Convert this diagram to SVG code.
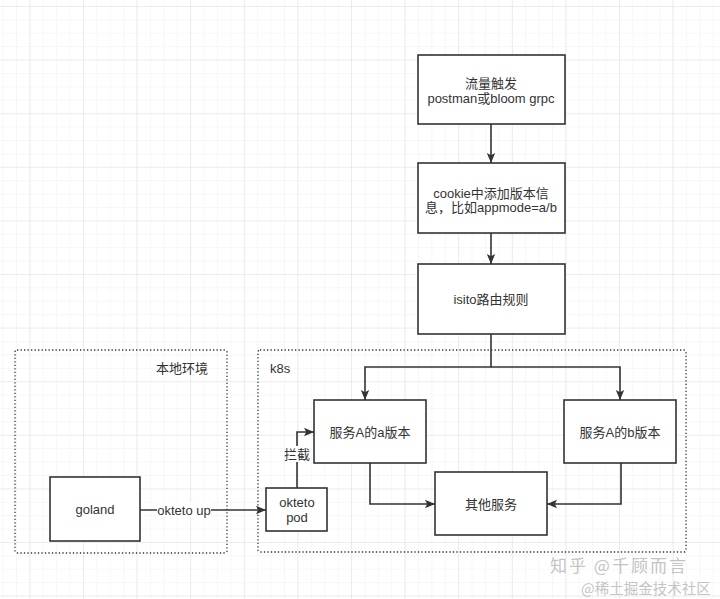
<svg xmlns="http://www.w3.org/2000/svg" width="720" height="599" viewBox="0 0 720 599">
<style>
.box{fill:#fff;stroke:#333;stroke-width:1.6}
.cont{fill:none;stroke:#333;stroke-width:1.3;stroke-dasharray:1.3 2.2}
.t{font-family:"Liberation Sans","Noto Sans CJK SC",sans-serif;font-size:13px;fill:#333;text-anchor:middle;dominant-baseline:central}
.c{fill:none;stroke:#333;stroke-width:1.6}
.wm{font-family:"Noto Sans CJK SC",sans-serif;fill:#c4c4c4;dominant-baseline:central}
</style>
<defs>
<marker id="ah" viewBox="0 0 10 10" refX="10" refY="5" markerWidth="10" markerHeight="10" markerUnits="userSpaceOnUse" orient="auto">
<path d="M0,0.8 L10,5 L0,9.2 L2.2,5 Z" fill="#333"/>
</marker>
<pattern id="gmin" x="2.6" y="6" width="13.4" height="13.4" patternUnits="userSpaceOnUse">
<path d="M0,0 H13.4 M0,0 V13.4" fill="none" stroke="#efefef" stroke-width="1"/>
</pattern>
<pattern id="gmaj" x="29.4" y="6" width="53.6" height="53.6" patternUnits="userSpaceOnUse">
<path d="M0,0 H53.6 M0,0 V53.6" fill="none" stroke="#e3e3e3" stroke-width="1.2"/>
</pattern>
</defs>
<rect width="720" height="599" fill="#fff"/>
<rect width="720" height="599" fill="url(#gmin)"/>
<rect width="720" height="599" fill="url(#gmaj)"/>

<g id="local-env">
<rect class="cont" x="15" y="350" width="212" height="203" rx="2"/>
<text class="t" x="208" y="368" style="text-anchor:end">本地环境</text>
</g>
<g id="k8s">
<rect class="cont" x="258" y="350" width="428" height="202" rx="2"/>
<text class="t" x="270" y="368" style="text-anchor:start">k8s</text>
</g>

<g id="connectors">
<path class="c" d="M491,124 V163" marker-end="url(#ah)"/>
<path class="c" d="M491,233 V264" marker-end="url(#ah)"/>
<path class="c" d="M491,334 V367 H365 V400" marker-end="url(#ah)"/>
<path class="c" d="M491,367 H620 V400" marker-end="url(#ah)"/>
<path class="c" d="M370,463 V504 H435" marker-end="url(#ah)"/>
<path class="c" d="M621,463 V504 H547" marker-end="url(#ah)"/>
<path class="c" d="M140,510 H266" marker-end="url(#ah)"/>
<path class="c" d="M297,488 V432 H314" marker-end="url(#ah)"/>
<rect x="157" y="502" width="54" height="16" fill="#fff"/>
<text class="t" x="184" y="510">okteto up</text>
<rect x="285" y="446" width="25" height="16" fill="#fff"/>
<text class="t" x="297" y="454">拦截</text>
</g>

<g id="traffic">
<rect class="box" x="418" y="55" width="147" height="69"/>
<text class="t" x="491" y="83">流量触发</text>
<text class="t" x="491" y="98">postman或bloom grpc</text>
</g>
<g id="cookie">
<rect class="box" x="418" y="163" width="147" height="70"/>
<text class="t" x="491" y="193">cookie中添加版本信</text>
<text class="t" x="491" y="207">息，比如appmode=a/b</text>
</g>
<g id="istio">
<rect class="box" x="418" y="264" width="147" height="70"/>
<text class="t" x="491" y="299">isito路由规则</text>
</g>
<g id="serviceA-a">
<rect class="box" x="314" y="400" width="112" height="63"/>
<text class="t" x="370" y="432">服务A的a版本</text>
</g>
<g id="serviceA-b">
<rect class="box" x="564" y="400" width="112" height="63"/>
<text class="t" x="620" y="432">服务A的b版本</text>
</g>
<g id="other">
<rect class="box" x="435" y="472" width="112" height="63"/>
<text class="t" x="491" y="504">其他服务</text>
</g>
<g id="goland">
<rect class="box" x="50" y="477" width="90" height="64"/>
<text class="t" x="95" y="509">goland</text>
</g>
<g id="okteto-pod">
<rect class="box" x="266" y="488" width="61" height="43"/>
<text class="t" x="297" y="502">okteto</text>
<text class="t" x="297" y="517">pod</text>
</g>

<text class="wm" x="550" y="564" style="font-size:17px;letter-spacing:2px">知乎 @千顾而言</text>
<text class="wm" x="581" y="587" style="font-size:14.5px">@稀土掘金技术社区</text>
</svg>
